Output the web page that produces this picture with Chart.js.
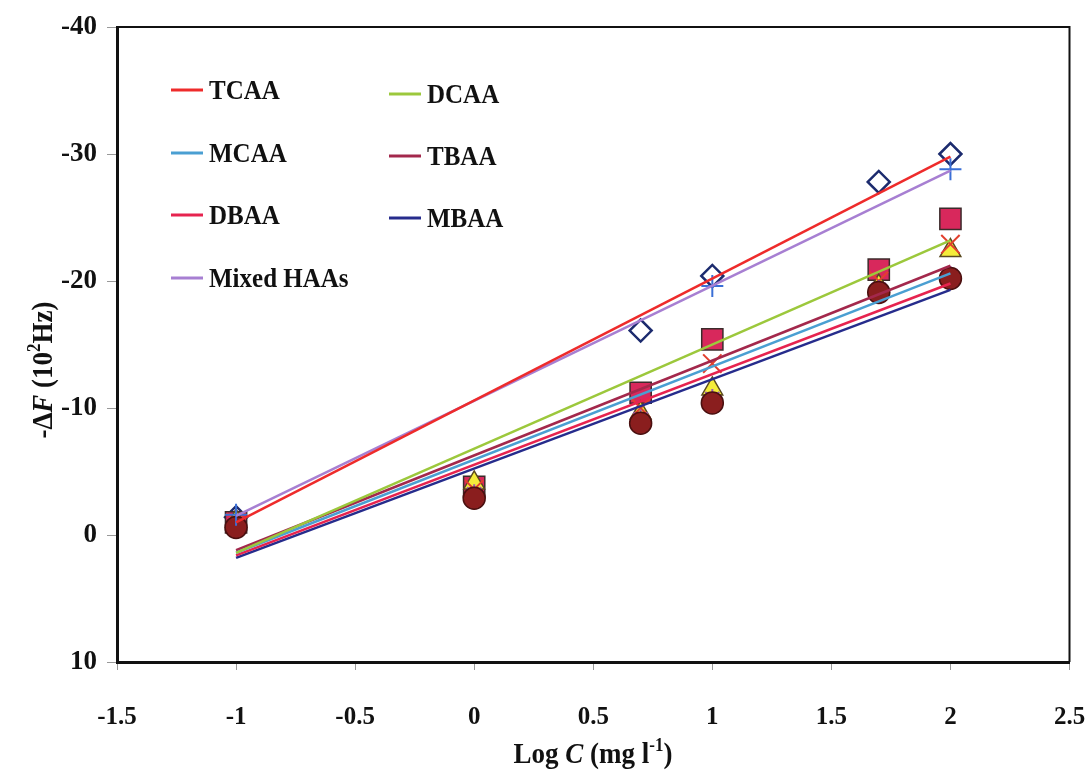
<!DOCTYPE html>
<html><head><meta charset="utf-8">
<script src="https://cdn.jsdelivr.net/npm/chart.js@4.4.0/dist/chart.umd.min.js"></script>
<style>html,body{margin:0;padding:0;background:#fff;}#wrap{width:1086px;height:774px;position:relative;}</style>
</head><body><div id="wrap"><canvas id="c" width="1086" height="774"></canvas></div>
<script>
// ---- data ----
const logC = [-1, 0, 0.699, 1, 1.699, 2];
const xTickLabels = ['-1.5', '-1', '-0.5', '0', '0.5', '1', '1.5', '2', '2.5'];
const yTickLabels = ['-40', '-30', '-20', '-10', '0', '10'];
const seriesNames = ['TCAA', 'DCAA', 'MCAA', 'TBAA', 'DBAA', 'MBAA', 'Mixed HAAs'];
// measured points (-ΔF, 10^2 Hz); null = no visible marker
const tcaaPts  = [-1.4, null, -16.1, -20.4, -27.8, -30.0];
const dcaaPts  = [-1.0, -3.8, -11.2, -15.4, -20.9, -24.9];
const mcaaPts  = [-1.1, -4.1, -9.6, -11.5, -19.6, -22.4];
const tbaaPts  = [-1.0, -3.6, -10.0, -13.5, -20.0, -22.9];
const dbaaPts  = [-0.8, -3.2, -9.1, -10.7, -19.3, -20.4];
const mbaaPts  = [-0.6, -2.9, -8.8, -10.4, -19.1, -20.2];
const mixedPts = [-1.6, null, null, -19.6, null, -28.8];
// linear trend lines: values at logC = -1 and logC = 2
const trendX   = [-1, 2];
const tcaaFit  = [-1.0, -29.8];
const dcaaFit  = [1.4, -23.2];
const mcaaFit  = [1.4, -20.6];
const tbaaFit  = [1.2, -21.2];
const dbaaFit  = [1.6, -19.8];
const mbaaFit  = [1.8, -19.3];
const mixedFit = [-1.5, -28.7];

// ---- styles ----
const lineColors = ['#ee2b2b', '#9cc83c', '#4a9fd2', '#a3284c', '#e6234f', '#262c8c', '#a77fd2'];
const markerStyles = [
  {pointStyle:'rectRot', radius:11, bg:'rgba(255,255,255,0)', border:'#1c2b6e', bw:2.5},
  {pointStyle:'rect', radius:15, bg:'#d8285c', border:'#3b2b2b', bw:1.5},
  {pointStyle:'triangle', radius:12, bg:'#f4ec3a', border:'#5a4a20', bw:1.5},
  {pointStyle:'crossRot', radius:13, bg:'#e2402e', border:'#e2402e', bw:2},
  {pointStyle:'star', radius:10, bg:'#9a5ab0', border:'#9a5ab0', bw:2},
  {pointStyle:'circle', radius:11, bg:'#8a1e1e', border:'#4a1010', bw:1.5},
  {pointStyle:'cross', radius:11, bg:'#3a6fd6', border:'#3a6fd6', bw:2}
];
const ptsList = [tcaaPts, dcaaPts, mcaaPts, tbaaPts, dbaaPts, mbaaPts, mixedPts];
const fitList = [tcaaFit, dcaaFit, mcaaFit, tbaaFit, dbaaFit, mbaaFit, mixedFit];

const datasets = [];
fitList.forEach((f, i) => {
  datasets.push({
    label: seriesNames[i],
    data: trendX.map((x, k) => ({x, y: f[k]})),
    showLine: true, borderColor: lineColors[i], borderWidth: 2.5,
    pointRadius: 0, order: 0, fill: false
  });
});
ptsList.forEach((p, i) => {
  const m = markerStyles[i];
  datasets.push({
    label: seriesNames[i] + ' data',
    data: logC.map((x, k) => ({x, y: p[k]})).filter(d => d.y !== null),
    showLine: false, pointStyle: m.pointStyle, pointRadius: m.radius,
    pointBackgroundColor: m.bg, pointBorderColor: m.border, pointBorderWidth: m.bw,
    order: 10 - i
  });
});

const SERIF = '"Liberation Serif", "Times New Roman", serif';

function drawRuns(ctx, runs, cx, cy, rotate) {
  ctx.save();
  ctx.translate(cx, cy);
  if (rotate) ctx.rotate(-Math.PI / 2);
  ctx.scale(1, 1.12);
  let total = 0;
  runs.forEach(r => { ctx.font = r.font; r.w = ctx.measureText(r.t).width; total += r.w; });
  let x = -total / 2;
  ctx.fillStyle = '#111';
  ctx.textBaseline = 'alphabetic';
  ctx.textAlign = 'left';
  runs.forEach(r => { ctx.font = r.font; ctx.fillText(r.t, x, r.dy || 0); x += r.w; });
  ctx.restore();
}

const decor = {
  id: 'decor',
  afterDraw(chart) {
    const ctx = chart.ctx, a = chart.chartArea;
    // top and right frame
    ctx.save();
    ctx.strokeStyle = '#111'; ctx.lineWidth = 2;
    ctx.beginPath();
    ctx.moveTo(a.left, a.top); ctx.lineTo(a.right, a.top); ctx.lineTo(a.right, a.bottom);
    ctx.stroke();
    ctx.restore();
    // legend (inside plot area)
    const cols = [{lx: 171, tx: 209}, {lx: 389, tx: 427}];
    const rowsY = [[90, 153, 215, 278], [94, 156, 218]];
    const order = [[0, 2, 4, 6], [1, 3, 5]];
    ctx.save();
    ctx.textBaseline = 'middle';
    ctx.fillStyle = '#111';
    order.forEach((col, c) => {
      col.forEach((si, r) => {
        const y = rowsY[c][r];
        ctx.strokeStyle = lineColors[si]; ctx.lineWidth = 3;
        ctx.beginPath(); ctx.moveTo(cols[c].lx, y); ctx.lineTo(cols[c].lx + 32, y); ctx.stroke();
        ctx.save();
        ctx.translate(cols[c].tx, y + 2);
        ctx.scale(1, 1.12);
        ctx.font = 'bold 25px ' + SERIF;
        ctx.fillText(seriesNames[si], 0, 0);
        ctx.restore();
      });
    });
    ctx.restore();
    // axis titles
    const B = 'bold 27px ' + SERIF, BI = 'italic bold 27px ' + SERIF, S = 'bold 17px ' + SERIF;
    drawRuns(ctx, [
      {t: 'Log ', font: B}, {t: 'C', font: BI}, {t: ' (mg l', font: B},
      {t: '-1', font: S, dy: -11}, {t: ')', font: B}
    ], 593, 763, false);
    drawRuns(ctx, [
      {t: '-Δ', font: B}, {t: 'F', font: BI}, {t: ' (10', font: B},
      {t: '2', font: S, dy: -11}, {t: 'Hz)', font: B}
    ], 52, 370, true);
  }
};

new Chart(document.getElementById('c'), {
  type: 'scatter',
  data: {datasets},
  plugins: [decor],
  options: {
    responsive: false, animation: false, devicePixelRatio: 1,
    layout: {padding: {left: 0, right: 16, top: 27, bottom: 0}},
    plugins: {legend: {display: false}, tooltip: {enabled: false}},
    scales: {
      x: {
        type: 'linear', min: -1.5, max: 2.5,
        afterFit: s => { s.height = 112; s.paddingLeft = 0; s.paddingRight = 0; },
        afterBuildTicks: s => { s.ticks = xTickLabels.map(v => ({value: parseFloat(v)})); },
        ticks: {
          callback: (v, i) => xTickLabels[i],
          font: {family: SERIF, size: 25, weight: 'bold'}, color: '#111', padding: 33, maxRotation: 0
        },
        grid: {drawOnChartArea: false, drawTicks: true, tickLength: 8, color: '#999'},
        border: {display: true, color: '#111', width: 3}
      },
      y: {
        type: 'linear', min: -40, max: 10, reverse: true,
        afterFit: s => { s.width = 117; s.paddingTop = 0; s.paddingBottom = 0; },
        afterBuildTicks: s => { s.ticks = yTickLabels.map(v => ({value: parseFloat(v)})); },
        ticks: {
          callback: (v, i) => yTickLabels[i],
          font: {family: SERIF, size: 27, weight: 'bold'}, color: '#111', padding: 10
        },
        grid: {drawOnChartArea: false, drawTicks: true, tickLength: 10, color: '#999'},
        border: {display: true, color: '#111', width: 3}
      }
    }
  }
});
</script></body></html>
